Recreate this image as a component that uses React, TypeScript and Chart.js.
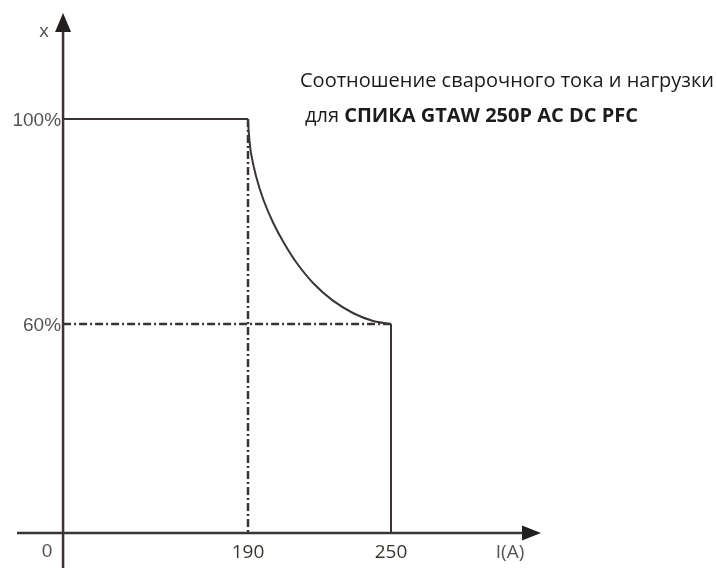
import React, { useEffect, useRef } from "react";
import { Chart, registerables } from "chart.js";

Chart.register(...registerables);

// ---- data ----
const currentTicks = [190, 250];
const currentTickLabels = ["190", "250"];
const dutyTicks = [100, 60];
const dutyTickLabels = ["100%", "60%"];
const originLabel = "0";
const xAxisTitle = "I(A)";
const yAxisTitle = "x";
const titleLine1 = "Соотношение сварочного тока и нагрузки";
const titleLine2Normal = "для ";
const titleLine2Bold = "СПИКА GTAW 250P AC DC PFC";

// schematic (broken) axes: the values at which the drawn axes cross
const axisOriginCurrent = 112.4;
const axisOriginDuty = 19.2;

// rated levels
const ratedCurrent = 190;
const maxCurrent = 250;
const fullDuty = 100;
const minDuty = 60;

// derating curve
const curveCurrent = [190, 190.3, 191.2, 193.4, 196.5, 200.5, 205.2, 210.6, 217.5, 225.5, 234.2, 242.5, 250];
const curveDuty = [100, 97.5, 93.5, 88.8, 84.2, 79.8, 75.7, 71.8, 67.9, 64.6, 62.1, 60.6, 60];

// scale windows
const xMin = 85.94;
const xMax = 386.78;
const yMin = 12.39;
const yMax = 123.22;

const LINE = "#3a3434";
const LABEL = "#555555";

const decor = {
  id: "decor",
  afterDatasetsDraw(chart: any) {
    const { ctx, scales } = chart;
    const xs = scales.x;
    const ys = scales.y;
    const ox = xs.getPixelForValue(axisOriginCurrent);
    const oy = ys.getPixelForValue(axisOriginDuty);
    ctx.save();
    // axes
    ctx.strokeStyle = LINE;
    ctx.fillStyle = "#231f1f";
    ctx.lineWidth = 2.5;
    ctx.beginPath();
    ctx.moveTo(ox, chart.height);
    ctx.lineTo(ox, 30);
    ctx.moveTo(17, oy);
    ctx.lineTo(525, oy);
    ctx.stroke();
    // arrows
    ctx.beginPath();
    ctx.moveTo(ox, 13);
    ctx.lineTo(ox - 8, 32);
    ctx.lineTo(ox + 8, 32);
    ctx.closePath();
    ctx.fill();
    ctx.beginPath();
    ctx.moveTo(541, oy);
    ctx.lineTo(522, oy - 7.5);
    ctx.lineTo(522, oy + 7.5);
    ctx.closePath();
    ctx.fill();

    // y labels
    ctx.fillStyle = LABEL;
    ctx.font = '19px "Liberation Sans Narrow", "Liberation Sans", Arial, sans-serif';
    ctx.textBaseline = "middle";
    ctx.textAlign = "right";
    dutyTicks.forEach((v, i) => {
      ctx.fillText(dutyTickLabels[i], ox - 2, ys.getPixelForValue(v) + 2);
    });
    ctx.textAlign = "center";
    ctx.fillText(yAxisTitle, ox - 19, 32);
    ctx.fillText(originLabel, ox - 16, oy + 19);

    // x labels
    ctx.fillStyle = "#3a3530";
    ctx.font = '19px "Open Sans", "Noto Sans", sans-serif';
    currentTicks.forEach((v, i) => {
      ctx.fillText(currentTickLabels[i], xs.getPixelForValue(v), oy + 19);
    });
    ctx.fillStyle = LABEL;
    ctx.fillText(xAxisTitle, 510, oy + 19);

    // title
    ctx.fillStyle = "#1c1c1c";
    ctx.textAlign = "left";
    ctx.textBaseline = "alphabetic";
    ctx.font = '20px "Open Sans", "Noto Sans", sans-serif';
    ctx.fillText(titleLine1, 300, 87);
    ctx.fillText(titleLine2Normal, 305, 122);
    const w = ctx.measureText(titleLine2Normal).width;
    ctx.font = 'bold 20px "Open Sans", "Noto Sans", sans-serif';
    ctx.fillText(titleLine2Bold, 305 + w, 122);
    ctx.restore();
  },
};

export default function App() {
  const ref = useRef<HTMLCanvasElement | null>(null);
  useEffect(() => {
    if (!ref.current) return;
    const dashDot = [8, 3, 2, 3];
    const chart = new Chart(ref.current, {
      type: "scatter",
      data: {
        datasets: [
          {
            label: "rated",
            data: [
              { x: axisOriginCurrent, y: fullDuty },
              { x: ratedCurrent, y: fullDuty },
            ],
            showLine: true,
            borderColor: LINE,
            borderWidth: 2,
            pointRadius: 0,
          },
          {
            label: "curve",
            data: curveCurrent.map((c, i) => ({ x: c, y: curveDuty[i] })),
            showLine: true,
            borderColor: LINE,
            borderWidth: 2,
            pointRadius: 0,
            tension: 0.3,
          },
          {
            label: "max",
            data: [
              { x: maxCurrent, y: minDuty },
              { x: maxCurrent, y: axisOriginDuty },
            ],
            showLine: true,
            borderColor: LINE,
            borderWidth: 2,
            pointRadius: 0,
          },
          {
            label: "ratedGuide",
            data: [
              { x: ratedCurrent, y: fullDuty },
              { x: ratedCurrent, y: axisOriginDuty },
            ],
            showLine: true,
            borderColor: LINE,
            borderWidth: 2.5,
            borderDash: dashDot,
            pointRadius: 0,
          },
          {
            label: "minGuide",
            data: [
              { x: axisOriginCurrent, y: minDuty },
              { x: maxCurrent, y: minDuty },
            ],
            showLine: true,
            borderColor: LINE,
            borderWidth: 2.5,
            borderDash: dashDot,
            pointRadius: 0,
          },
        ],
      },
      options: {
        animation: false,
        responsive: true,
        maintainAspectRatio: false,
        layout: { padding: 0 },
        clip: false as any,
        plugins: { legend: { display: false }, tooltip: { enabled: false }, title: { display: false } },
        scales: {
          x: { type: "linear", min: xMin, max: xMax, display: false },
          y: { type: "linear", min: yMin, max: yMax, display: false },
        },
      },
      plugins: [decor],
    });
    return () => chart.destroy();
  }, []);
  return (
    <div style={{ position: "fixed", left: 0, top: 0, width: 717, height: 568, background: "#fff" }}>
      <canvas ref={ref} />
    </div>
  );
}
